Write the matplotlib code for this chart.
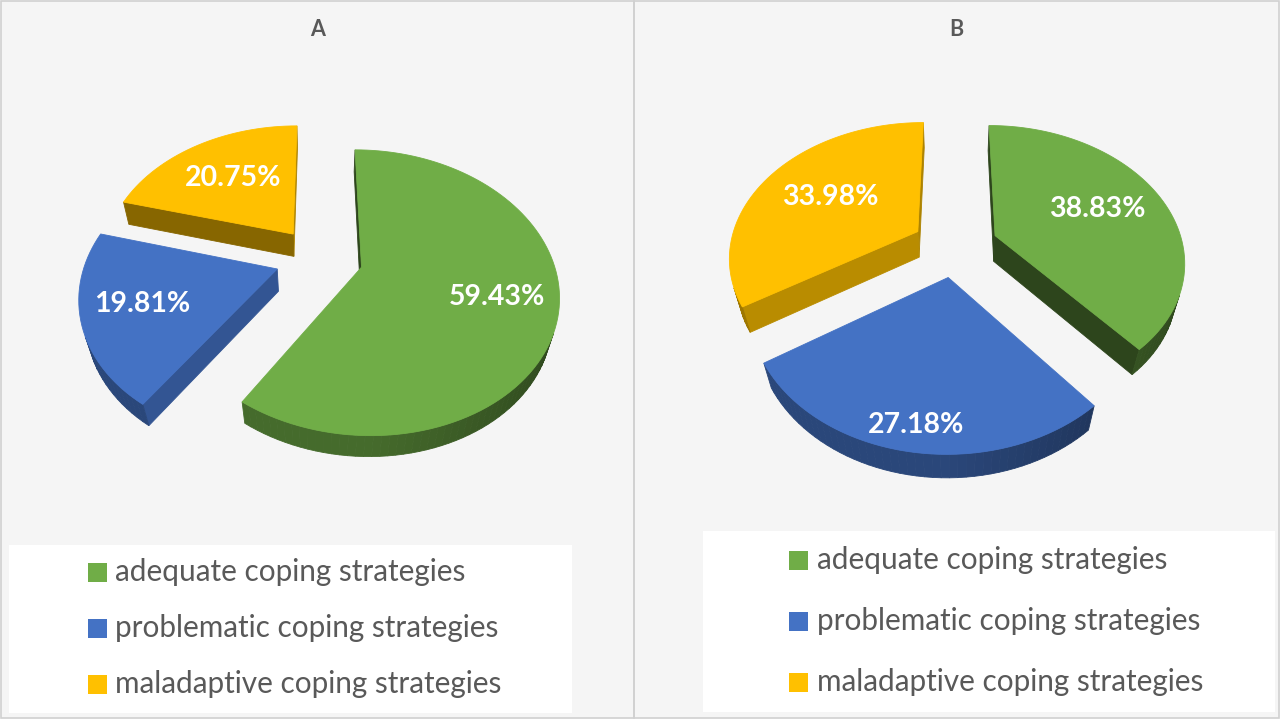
import numpy as np
import matplotlib
matplotlib.use("Agg")
import matplotlib.pyplot as plt
from matplotlib.patches import Rectangle, Polygon
from matplotlib.colors import to_rgb

plt.rcParams['font.family'] = ['Lato', 'DejaVu Sans']
plt.rcParams['hatch.color'] = 'white'
plt.rcParams['hatch.linewidth'] = 1.6

# data
categories = ['adequate coping strategies', 'problematic coping strategies',
              'maladaptive coping strategies']
values_a = [59.43, 19.81, 20.75]
values_b = [38.83, 27.18, 33.98]
labels_a = ['59.43%', '19.81%', '20.75%']
labels_b = ['38.83%', '27.18%', '33.98%']
panel_titles = ['A', 'B']

# styles
colors = ['#70AD47', '#4472C4', '#FFC000']
text_grey = '#595959'
ELEV = np.radians(45)
DIST = 4.0
LIGHT = np.array([0.8, -0.6])


def shade(color, f):
    r, g, b = to_rgb(color)
    return (r * f, g * f, b * f)


def project(p, center, radius):
    x, y, z = p
    v = y * np.sin(ELEV) + z * np.cos(ELEV)
    w = y * np.cos(ELEV) - z * np.sin(ELEV)
    s = DIST / (DIST + w)
    return center[0] + radius * x * s, center[1] - radius * v * s, w


def pie3d(ax, values, labels, center, radius, explode, depth, label_r):
    total = float(sum(values))
    cam = np.array([0.0, -DIST * np.cos(ELEV), DIST * np.sin(ELEV)])
    sides = []
    tops = []
    start = 0.0
    for i, val in enumerate(values):
        a0 = start
        a1 = start + 2 * np.pi * val / total
        start = a1
        mid = (a0 + a1) / 2
        ox, oy = explode * np.sin(mid), explode * np.cos(mid)
        ts = np.linspace(a0, a1, max(int(np.degrees(a1 - a0) / 2), 4))
        arc = [(ox + np.sin(t), oy + np.cos(t)) for t in ts]
        tip = (ox, oy)
        tops.append((i, [tip] + arc))

        def add_face(pts2d, normal, fac):
            pts = [(x, y, 0.0) for x, y in pts2d] + \
                  [(x, y, -depth) for x, y in reversed(pts2d)]
            c = np.mean(np.array(pts), axis=0)
            n3 = np.array([normal[0], normal[1], 0.0])
            if np.dot(n3, cam - c) <= 0:
                return
            proj = [project(p, center, radius) for p in pts]
            wmean = np.mean([q[2] for q in proj])
            sides.append((wmean, [(q[0], q[1]) for q in proj], shade(colors[i], fac)))

        # outer rim, in small pieces for a soft gradient
        for j in range(len(arc) - 1):
            tm = (ts[j] + ts[j + 1]) / 2
            n = (np.sin(tm), np.cos(tm))
            add_face([arc[j], arc[j + 1]], n, 0.62 - 0.22 * max(0.0, n[0]))
        # radial walls
        n0 = (-np.cos(a0), np.sin(a0))
        n1 = (np.cos(a1), -np.sin(a1))
        add_face([tip, arc[0]], n0, 0.4 + 0.35 * max(0.0, np.dot(n0, LIGHT)))
        add_face([tip, arc[-1]], n1, 0.4 + 0.35 * max(0.0, np.dot(n1, LIGHT)))

    for _, pts, col in sorted(sides, key=lambda s: -s[0]):
        ax.add_patch(Polygon(pts, closed=True, facecolor=col, edgecolor=col,
                             linewidth=0.6, zorder=3))
    for i, pts2d in tops:
        pts = [project((x, y, 0.0), center, radius)[:2] for x, y in pts2d]
        ax.add_patch(Polygon(pts, closed=True, facecolor=colors[i],
                             edgecolor=colors[i], linewidth=0.6, zorder=4))

    # data labels
    start = 0.0
    for i, val in enumerate(values):
        a0 = start
        a1 = start + 2 * np.pi * val / total
        start = a1
        mid = (a0 + a1) / 2
        r = explode + label_r[i]
        lx, ly, _ = project((r * np.sin(mid), r * np.cos(mid), 0.0), center, radius)
        ax.text(lx, ly, labels[i], color='white', fontsize=20.5, fontweight='bold',
                ha='center', va='center', zorder=5)


fig = plt.figure(figsize=(12.8, 7.2), dpi=100)
ax = fig.add_axes([0, 0, 1, 1])
ax.set_xlim(0, 1280)
ax.set_ylim(720, 0)
ax.axis('off')

panels = [
    dict(x0=1, x1=634, values=values_a, labels=labels_a, center=(319, 258),
         radius=191, depth=0.17, label_r=[0.70, 0.70, 0.60],
         box=(9, 545, 563, 168), sq_x=88, txt_x=115, rows=[572.5, 628, 684]),
    dict(x0=634, x1=1279, values=values_b, labels=labels_b, center=(955, 246),
         radius=188, depth=0.2, label_r=[0.62, 0.87, 0.58],
         box=(703, 531, 572, 181), sq_x=789, txt_x=817, rows=[560.5, 621, 682]),
]

for k, p in enumerate(panels):
    ax.add_patch(Rectangle((p['x0'], 1), p['x1'] - p['x0'], 717, facecolor='#f5f5f5',
                           edgecolor='none', hatch='//////', linewidth=0, zorder=0))
    ax.add_patch(Rectangle((p['x0'], 1), p['x1'] - p['x0'], 717, facecolor='none',
                           edgecolor='#d0d0d0', linewidth=1.2, zorder=1))
    ax.text((p['x0'] + p['x1']) / 2, 30, panel_titles[k], color=text_grey,
            fontsize=15.5, fontweight='bold', ha='center', va='center', zorder=5)
    pie3d(ax, p['values'], p['labels'], p['center'], p['radius'], 0.23,
          p['depth'], p['label_r'])
    bx, by, bw, bh = p['box']
    ax.add_patch(Rectangle((bx, by), bw, bh, facecolor='white', edgecolor='none',
                           zorder=2))
    for i, name in enumerate(categories):
        ax.add_patch(Rectangle((p['sq_x'], p['rows'][i] - 9.5), 19, 19,
                               facecolor=colors[i], edgecolor='none', zorder=3))
        ax.text(p['txt_x'], p['rows'][i], name, color=text_grey, fontsize=21.4,
                ha='left', va='center', zorder=3)

fig.savefig('out.png', dpi=100)
